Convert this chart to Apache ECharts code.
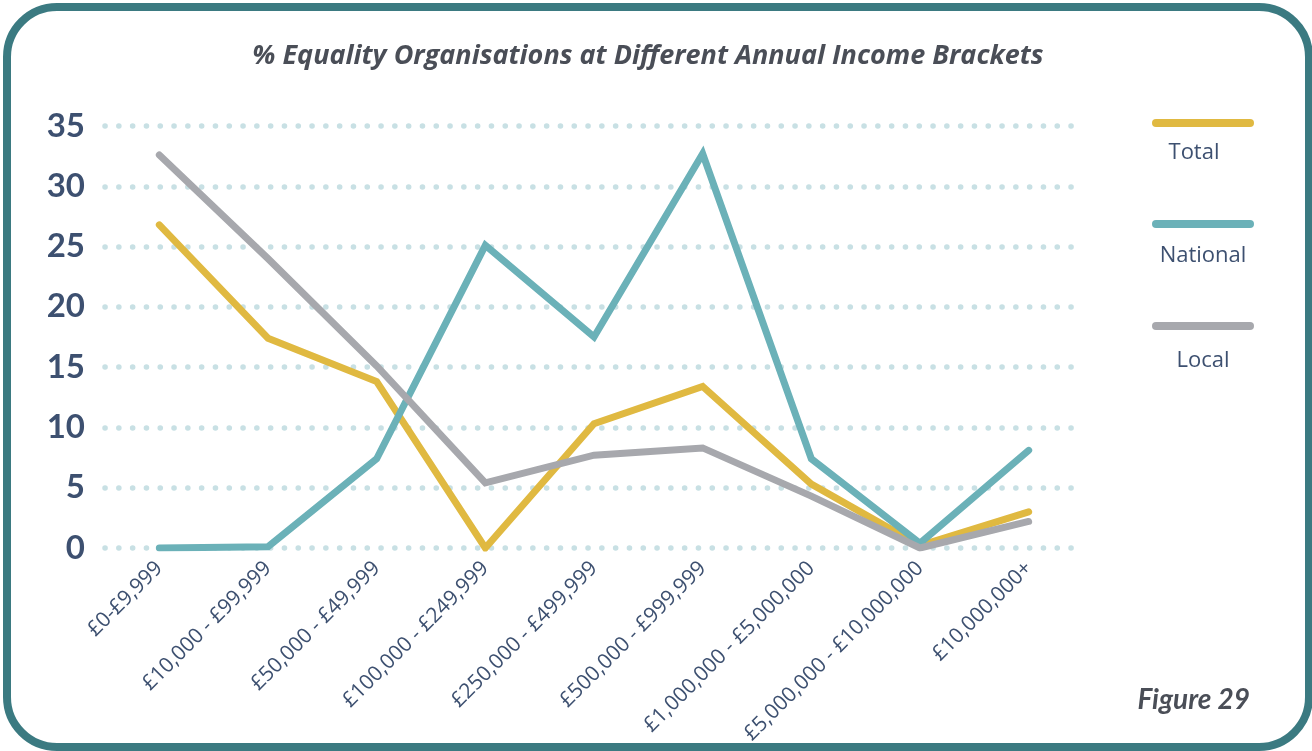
<!DOCTYPE html>
<html>
<head>
<meta charset="utf-8">
<script src="https://cdn.jsdelivr.net/npm/echarts@6/dist/echarts.min.js"></script>
<style>
  html, body { margin: 0; padding: 0; background: #fff; }
  #chart { width: 1312px; height: 751px; }
</style>
</head>
<body>
<div id="chart"></div>
<script>
// income brackets along the x axis
const brackets = [
  '£0-£9,999', '£10,000 - £99,999', '£50,000 - £49,999', '£100,000 - £249,999',
  '£250,000 - £499,999', '£500,000 - £999,999', '£1,000,000 - £5,000,000',
  '£5,000,000 - £10,000,000', '£10,000,000+'
];

// % of organisations per bracket
const total    = [26.8, 17.4, 13.8, 0,    10.3, 13.4, 5.3, 0.2, 3.0];
const national = [0,    0.1,  7.4,  25.1, 17.5, 32.7, 7.4, 0.4, 8.1];
const local    = [32.6, 24.0, 15.1, 5.4,  7.7,  8.3,  4.3, 0,   2.2];

const seriesNames = ['Total', 'National', 'Local'];
const colors = ['#e0b941', '#6bb1b8', '#a7a8ad'];

const chart = echarts.init(document.getElementById('chart'));

const textCol = '#3d5070';
const font = '"Open Sans", Lato, sans-serif';

function lineSeries(name, data, color) {
  return {
    name: name,
    type: 'line',
    data: data,
    symbol: 'none',
    lineStyle: { color: color, width: 7, cap: 'round', join: 'miter' },
    itemStyle: { color: color },
    z: 3
  };
}

// legend drawn by hand: line above, label below
const legendY = [123, 224, 326];
const legendTextY = [153, 256, 361];
const legendTextX = [1194, 1203, 1203];
const legendGraphics = [];
seriesNames.forEach((n, i) => {
  legendGraphics.push({
    type: 'line',
    shape: { x1: 1156, y1: legendY[i], x2: 1250, y2: legendY[i] },
    style: { stroke: colors[i], lineWidth: 8, lineCap: 'round' }
  });
  legendGraphics.push({
    type: 'text',
    x: legendTextX[i],
    y: legendTextY[i],
    style: {
      text: n, fill: textCol, font: '22px ' + font,
      textAlign: 'center', textVerticalAlign: 'middle'
    }
  });
});

const option = {
  animation: false,
  backgroundColor: '#fff',
  title: {
    text: '% Equality Organisations at Different Annual Income Brackets',
    left: 643,
    top: 38,
    textAlign: 'center',
    textStyle: {
      color: '#4a4e57', fontSize: 27, fontWeight: 'bold', fontStyle: 'italic',
      fontFamily: font
    }
  },
  grid: {
    left: 105, right: 229, top: 126, bottom: 203,
    outerBoundsMode: 'none', containLabel: false
  },
  xAxis: {
    type: 'category',
    data: brackets,
    boundaryGap: true,
    axisLine: { show: false },
    axisTick: { show: false },
    axisLabel: {
      rotate: 45, interval: 0, margin: 17,
      color: textCol, fontSize: 21, fontFamily: font
    }
  },
  yAxis: {
    type: 'value',
    min: 0, max: 35, interval: 5,
    axisLine: { show: false },
    axisTick: { show: false },
    axisLabel: {
      margin: 20, color: textCol, fontSize: 33, fontWeight: 'bold',
      fontFamily: 'Lato, sans-serif'
    },
    splitLine: {
      show: true,
      lineStyle: { color: '#c8e0e4', width: 5.5, type: [0.1, 13.7], cap: 'round' }
    }
  },
  series: [
    lineSeries(seriesNames[0], total, colors[0]),
    lineSeries(seriesNames[1], national, colors[1]),
    lineSeries(seriesNames[2], local, colors[2])
  ],
  graphic: [
    {
      type: 'rect',
      shape: { x: 7, y: 7, width: 1302, height: 740, r: 50 },
      style: { fill: 'none', stroke: '#3b7a81', lineWidth: 8 },
      z: 10
    },
    {
      type: 'text',
      right: 62,
      top: 686,
      style: {
        text: 'Figure 29', fill: '#4a4e57',
        font: 'italic bold 28px Lato, sans-serif'
      }
    }
  ].concat(legendGraphics)
};

chart.setOption(option);
</script>
</body>
</html>
